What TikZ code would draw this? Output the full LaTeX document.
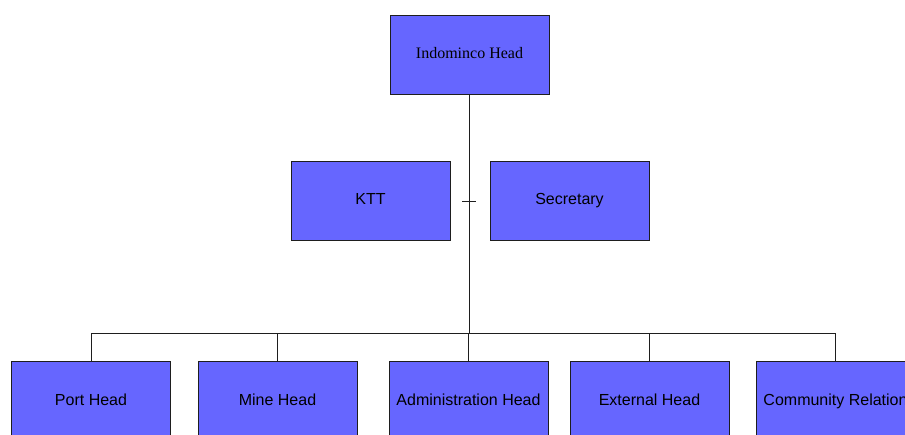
\documentclass[tikz,border=0pt]{standalone}
\usepackage{fontspec}
\setmainfont{Liberation Sans}
\newfontfamily\headfont{Liberation Serif}
\usepackage{tikz}
\definecolor{boxblue}{RGB}{102,102,255}
\definecolor{linegray}{RGB}{30,30,30}
\tikzset{
    unit/.style={draw=linegray, fill=boxblue, rectangle, line width=1pt,
        minimum width=159pt, minimum height=79pt, inner sep=0pt,
        text height=11.5pt, text depth=3.5pt, font=\fontsize{16}{19}\selectfont},
    headunit/.style={unit, font=\headfont\fontsize{16}{19}\selectfont},
    link/.style={draw=linegray, line width=1pt}
}
\begin{document}
\begin{tikzpicture}[x=1pt, y=-1pt]
    \clip (0,0) rectangle (905,434);
    % top
    \node[headunit] (head) at (469.5,54.5) {Indominco Head};
    % staff
    \node[unit] (ktt) at (370.5,200.5) {KTT};
    \node[unit] (secr) at (569.5,200.5) {Secretary};
    % departments
    \node[unit] (port) at (91,401) {Port Head};
    \node[unit] (mine) at (277.5,401) {Mine Head};
    \node[unit] (admin) at (468.5,401) {Administration Head};
    \node[unit] (ext) at (649.5,401) {External Head};
    \node[unit] (comm) at (835.5,401) {Community Relation};

    \coordinate (bus) at (469.5,333.5);
    \coordinate (tickw) at (462,201);
    \coordinate (ticke) at (476,201);

    \draw[link] (head.south) -- (head.south |- bus);
    \draw[link] (tickw) -- (ticke);
    \draw[link] (port.north) |- (bus) -| (comm.north);
    \foreach \d in {mine,admin,ext}
        \draw[link] (\d.north) -- (\d.north |- bus);
\end{tikzpicture}
\end{document}
